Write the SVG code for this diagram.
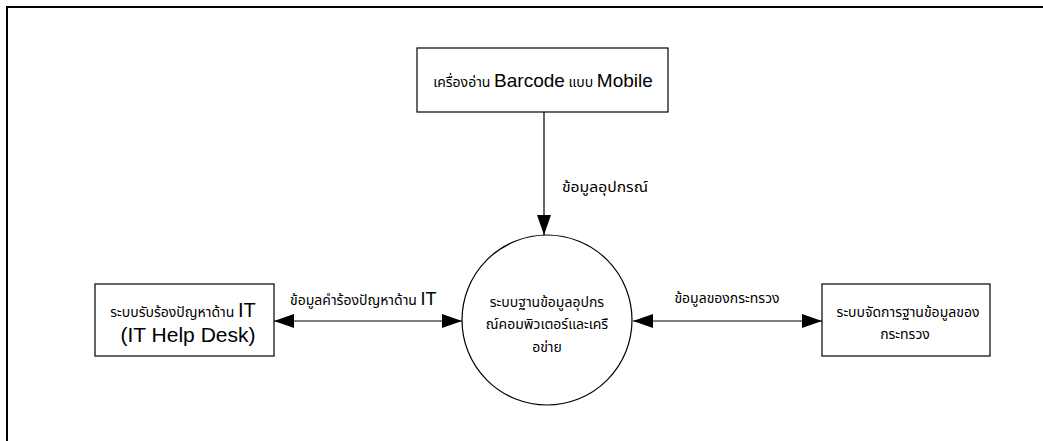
<svg xmlns="http://www.w3.org/2000/svg" width="1043" height="441" viewBox="0 0 1043 441">
<defs>
<style>
.box{fill:#fff;stroke:#000;stroke-width:1.2}
.th{font-family:"Noto Sans Thai","Noto Sans","DejaVu Sans",sans-serif;font-size:14px;fill:#000}
.en{font-family:"Liberation Sans",Arial,sans-serif;font-size:19px}
.ln{stroke:#000;stroke-width:1.2;fill:none}
</style>
<marker id="ahb" viewBox="0 0 20 14" refX="20" refY="7" markerWidth="20" markerHeight="14" markerUnits="userSpaceOnUse" orient="auto-start-reverse">
<path d="M0,0 L20,7 L0,14 Z" fill="#000"/>
</marker>
</defs>
<rect width="1043" height="441" fill="#fff"/>
<path d="M7,441 V7 H1043" fill="none" stroke="#000" stroke-width="2"/>
<g id="connectors">
<line class="ln" x1="544" y1="112" x2="544" y2="235" marker-end="url(#ahb)"/>
<line class="ln" x1="274" y1="321" x2="462" y2="321" marker-start="url(#ahb)" marker-end="url(#ahb)"/>
<line class="ln" x1="633" y1="321" x2="822" y2="321" marker-start="url(#ahb)" marker-end="url(#ahb)"/>
<text class="th" x="562" y="192" textLength="86" lengthAdjust="spacingAndGlyphs">ข้อมูลอุปกรณ์</text>
<text class="th" x="290" y="305">ข้อมูลคำร้องปัญหาด้าน <tspan class="en" style="font-size:18px">IT</tspan></text>
<text class="th" x="727" y="303" text-anchor="middle">ข้อมูลของกระทรวง</text>
</g>
<g id="barcode">
<rect class="box" x="417" y="48" width="251" height="64"/>
<text class="th" x="543" y="87" text-anchor="middle">เครื่องอ่าน <tspan class="en">Barcode</tspan> แบบ <tspan class="en">Mobile</tspan></text>
</g>
<g id="helpdesk">
<rect class="box" x="95" y="284" width="179" height="72"/>
<text class="th" x="183" y="317" text-anchor="middle">ระบบรับร้องปัญหาด้าน <tspan class="en" style="font-size:20px">IT</tspan></text>
<text class="en" x="188" y="342" text-anchor="middle" style="font-size:21px">(IT Help Desk)</text>
</g>
<g id="database">
<circle cx="547" cy="320" r="85" fill="#fff" stroke="#000" stroke-width="1.2"/>
<text class="th" x="547" y="307" text-anchor="middle">ระบบฐานข้อมูลอุปกร</text>
<text class="th" x="547" y="329" text-anchor="middle">ณ์คอมพิวเตอร์และเครื</text>
<text class="th" x="547" y="352" text-anchor="middle">อข่าย</text>
</g>
<g id="ministry">
<rect class="box" x="822" y="284" width="168" height="72"/>
<text class="th" x="908" y="317" text-anchor="middle">ระบบจัดการฐานข้อมูลของ</text>
<text class="th" x="905" y="339" text-anchor="middle">กระทรวง</text>
</g>
</svg>
